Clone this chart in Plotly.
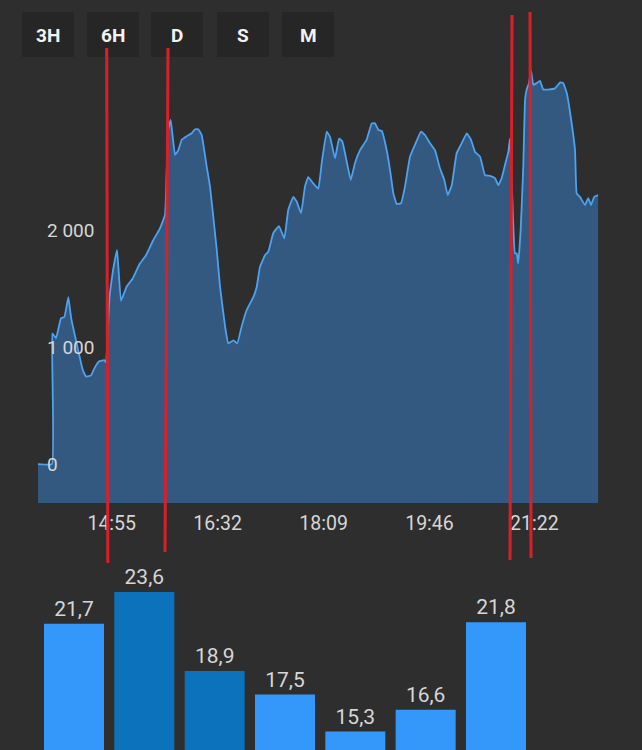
import plotly.graph_objects as go

# ---------------- data ----------------
# time of day in minutes since midnight
TIME_MIN = [827.5, 840.3, 840.6, 844.0, 848.6, 851.6, 855.3, 857.7, 862.3, 868.4,
            871.5, 876.0, 879.1, 883.6, 888.2, 889.8, 892.3, 893.4, 896.2, 899.9,
            903.5, 908.6, 914.2, 920.3, 926.4, 933.1, 939.2, 943.8, 946.6, 949.0,
            953.0, 956.0, 959.1, 963.7, 968.3, 971.3, 974.3, 977.4, 982.0, 985.0,
            988.0, 991.2, 994.2, 998.8, 1001.8, 1006.4, 1010.0, 1014.0, 1018.6, 1024.7,
            1027.8, 1030.8, 1035.4, 1038.4, 1043.0, 1048.2, 1053.1, 1056.7, 1061.3, 1064.4,
            1068.4, 1072.0, 1075.0, 1079.6, 1084.2, 1087.3, 1091.9, 1094.9, 1099.5, 1103.2,
            1106.2, 1109.3, 1113.9, 1117.8, 1122.4, 1128.5, 1133.1, 1136.1, 1139.1, 1142.3,
            1146.8, 1149.9, 1152.9, 1156.0, 1159.9, 1163.6, 1168.2, 1172.7, 1178.2, 1181.9,
            1186.5, 1191.0, 1195.6, 1199.6, 1202.7, 1206.4, 1210.9, 1215.5, 1220.1, 1224.0,
            1227.7, 1232.3, 1236.9, 1241.4, 1246.0, 1249.0, 1252.1, 1255.2, 1258.2, 1259.7,
            1262.8, 1264.3, 1265.9, 1267.3, 1269.5, 1271.9, 1273.5, 1275.0, 1277.1, 1279.0,
            1281.1, 1284.2, 1287.2, 1290.2, 1294.8, 1300.9, 1305.5, 1308.5, 1311.7, 1316.2,
            1319.3, 1320.8, 1323.8, 1328.4, 1331.4, 1333.9, 1336.9, 1340.6]
POWER = [0, 0, 1120, 1080, 1250, 1260, 1430, 1260, 1060, 810,
         750, 760, 820, 880, 890, 870, 1320, 1470, 1660, 1835,
         1400, 1520, 1590, 1710, 1790, 1920, 2020, 2135, 2860, 2950,
         2650, 2690, 2780, 2810, 2835, 2870, 2870, 2820, 2550, 2380,
         2120, 1835, 1520, 1180, 1035, 1060, 1035, 1180, 1320, 1430,
         1520, 1690, 1790, 1820, 1980, 2040, 1935, 2180, 2290, 2250,
         2150, 2380, 2460, 2405, 2360, 2580, 2850, 2805, 2620, 2790,
         2765, 2635, 2435, 2580, 2690, 2780, 2920, 2920, 2865, 2855,
         2690, 2520, 2320, 2230, 2235, 2380, 2635, 2735, 2850, 2820,
         2750, 2690, 2535, 2435, 2305, 2390, 2665, 2750, 2835, 2780,
         2675, 2635, 2475, 2470, 2450, 2390, 2450, 2565, 2675, 2790,
         2035, 1805, 1805, 1720, 2005, 2550, 3120, 3210, 3265, 3375,
         3250, 3265, 3285, 3210, 3210, 3220, 3270, 3265, 3180, 2920,
         2690, 2320, 2290, 2220, 2280, 2220, 2290, 2305]

X_TICK_VALS = [895, 992, 1089, 1186, 1282]
X_TICK_TEXT = ["14:55", "16:32", "18:09", "19:46", "21:22"]
Y_TICK_VALS = [0, 1000, 2000]

BAR_VALUES = [21.7, 23.6, 18.9, 17.5, 15.3, 16.6, 21.8]
BAR_SHADE = ["light", "dark", "dark", "light", "light", "light", "light"]

BUTTONS = ["3H", "6H", "D", "S", "M"]

# ---------------- style ----------------
W, H = 642, 750
BG = "#2e2e2e"
BTN_BG = "#262626"
LINE = "#4da2f2"
FILL = "rgba(52,92,134,0.93)"
TXT = "#d6d6d6"
BAR_COLORS = {"light": "#3498fb", "dark": "#0b72bb"}
RED = "#d8202a"

Y_MIN, Y_MAX = -334, 3446          # area-chart y range
B_MIN, B_MAX = 14.2, 25.2           # bar-chart y range


def px(x):
    return x / W


def py(y):
    return 1 - y / H


fig = go.Figure()

# baseline (axis minimum) so the fill reaches the bottom of the plot
fig.add_trace(go.Scatter(x=TIME_MIN, y=[Y_MIN] * len(TIME_MIN), mode="lines",
                         line=dict(width=0, color=LINE), hoverinfo="skip",
                         showlegend=False))
fig.add_trace(go.Scatter(x=TIME_MIN, y=POWER, mode="lines",
                         line=dict(color=LINE, width=1.8, shape="spline", smoothing=0.3),
                         fill="tonexty", fillcolor=FILL, showlegend=False))

fig.add_trace(go.Bar(x=list(range(len(BAR_VALUES))), y=BAR_VALUES,
                     marker=dict(color=[BAR_COLORS[s] for s in BAR_SHADE], line=dict(width=0)),
                     width=0.853, texttemplate="%{y:.1f}", textposition="outside",
                     textfont=dict(family="Roboto", size=21, color=TXT),
                     cliponaxis=False, xaxis="x2", yaxis="y2", showlegend=False))

shapes = []
btn_left = [22, 87, 151, 217, 282]
annotations = []
for lbl, x0 in zip(BUTTONS, btn_left):
    shapes.append(dict(type="rect", xref="paper", yref="paper",
                       x0=px(x0), x1=px(x0 + 52), y0=py(57), y1=py(12),
                       fillcolor=BTN_BG, line=dict(width=0), layer="below"))
    annotations.append(dict(text=lbl, xref="paper", yref="paper",
                            x=px(x0 + 26), y=py(35.5), showarrow=False,
                            xanchor="center", yanchor="middle",
                            font=dict(family="Roboto", size=19, color="#f2f2f2", weight="bold")))

# hand-drawn red marker lines
red_segments = [
    [(106.7, 48), (107.0, 177), (107.8, 563)],
    [(168.0, 48), (167.3, 177), (165.0, 552)],
    [(512.0, 15), (510.0, 560)],
    [(530.0, 12), (531.0, 558)],
]
for seg in red_segments:
    for (xa, ya), (xb, yb) in zip(seg[:-1], seg[1:]):
        shapes.append(dict(type="line", xref="paper", yref="paper",
                           x0=px(xa), y0=py(ya), x1=px(xb), y1=py(yb),
                           line=dict(color=RED, width=3), layer="above"))

fig.update_layout(
    template="none",
    width=W, height=H,
    margin=dict(l=0, r=0, t=0, b=0),
    paper_bgcolor=BG, plot_bgcolor=BG,
    separators=", ",
    showlegend=False,
    xaxis=dict(domain=[px(38), px(598.3)], range=[TIME_MIN[0], TIME_MIN[-1]],
               tickvals=X_TICK_VALS, ticktext=X_TICK_TEXT, showgrid=False,
               zeroline=False, showline=False, ticks="", automargin=False,
               ticklabelstandoff=6,
               tickfont=dict(family="Roboto", size=19.5, color=TXT), anchor="y"),
    yaxis=dict(domain=[py(503), py(62)], range=[Y_MIN, Y_MAX],
               tickvals=Y_TICK_VALS, separatethousands=True, showgrid=False,
               zeroline=False, showline=False, ticks="", automargin=False,
               ticklabelposition="inside", ticklabelstandoff=6,
               tickfont=dict(family="Roboto", size=19, color=TXT), anchor="x",
               layer="above traces"),
    xaxis2=dict(domain=[0, 1], range=[-74 / 70.33, (642 - 74) / 70.33],
                showticklabels=False, showgrid=False, zeroline=False,
                showline=False, ticks="", automargin=False, anchor="y2"),
    yaxis2=dict(domain=[0, py(565)], range=[B_MIN, B_MAX], showticklabels=False,
                showgrid=False, zeroline=False, showline=False, ticks="",
                automargin=False, anchor="x2"),
    shapes=shapes,
    annotations=annotations,
)

fig.write_html("out.html", config={"displayModeBar": False},
               post_script="document.body.style.margin='0';document.body.style.overflow='hidden';")
